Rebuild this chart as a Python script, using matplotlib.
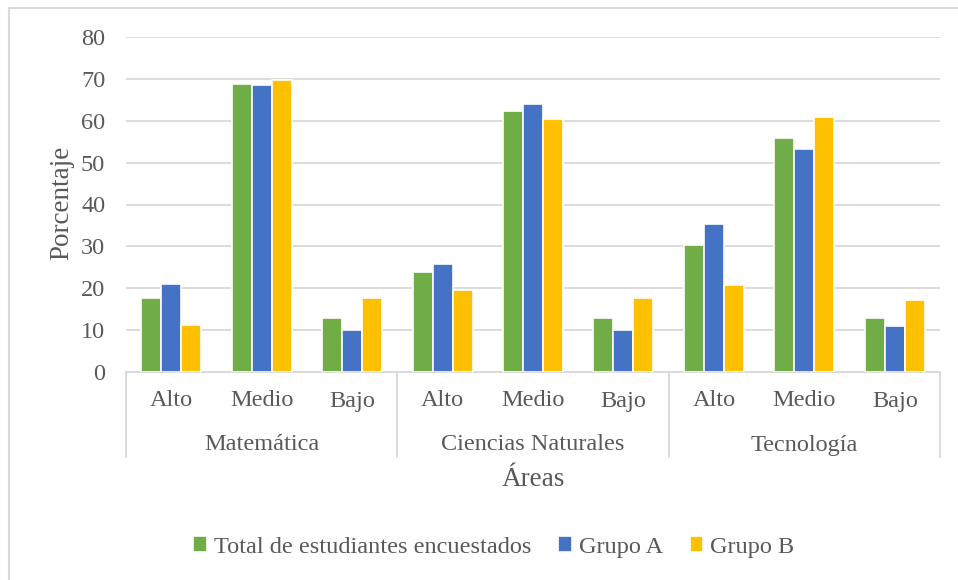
import matplotlib.pyplot as plt
from matplotlib.patches import Rectangle
from matplotlib.lines import Line2D
from matplotlib.transforms import blended_transform_factory
import numpy as np

plt.rcParams['font.family'] = ['Liberation Serif', 'DejaVu Serif']

# Data
areas = ["Matemática", "Ciencias Naturales", "Tecnología"]
niveles = ["Alto", "Medio", "Bajo"]
series_names = ["Total de estudiantes encuestados", "Grupo A", "Grupo B"]
total = [17.7, 68.8, 12.8, 23.8, 62.3, 12.8, 30.3, 55.9, 13.0]
grupo_a = [21.0, 68.5, 10.1, 25.7, 64.1, 10.0, 35.3, 53.2, 11.0]
grupo_b = [11.3, 69.8, 17.6, 19.7, 60.4, 17.6, 20.7, 60.9, 17.1]
colors = ["#70AD47", "#4472C4", "#FFC000"]

text_color = "#595959"
grid_color = "#D9D9D9"

fig = plt.figure(figsize=(9.58, 5.80), dpi=100)
ax = fig.add_axes([126/958, 1-372/580, (940-126)/958, (372-37)/580])

n = len(total)
x = np.arange(n)
pitch = 0.221
for i, (vals, c, name) in enumerate(zip([total, grupo_a, grupo_b], colors, series_names)):
    ax.bar(x + (i-1)*pitch, vals, width=pitch, color=c, edgecolor="white",
           linewidth=1.2, label=name, zorder=3)

ax.set_xlim(-0.5, n-0.5)
ax.set_ylim(0, 80)
ax.set_yticks(range(0, 81, 10))
ax.yaxis.grid(True, color=grid_color, linewidth=1.3, zorder=0)
ax.tick_params(axis='y', length=0, pad=15, labelsize=17.5, labelcolor=text_color)
ax.set_xticks([])
for s in ["top", "right", "left"]:
    ax.spines[s].set_visible(False)
ax.spines["bottom"].set_color(grid_color)
ax.spines["bottom"].set_linewidth(1.3)

trans = blended_transform_factory(ax.transData, fig.transFigure)

# level 1 labels
for i in range(n):
    ax.text(i, 1-401/580, niveles[i % 3], transform=trans,
            ha="center", va="center", fontsize=17.5, color=text_color)

# level 2 labels
for g, area in enumerate(areas):
    ax.text(g*3 + 1, 1-445/580, area, transform=trans, ha="center", va="center",
            fontsize=17.5, color=text_color)
for b in [-0.5, 2.5, 5.5, 8.5]:
    fig.add_artist(Line2D([b, b], [1-372/580, 1-457/580], transform=trans,
                          color=grid_color, linewidth=1.3))

fig.text(533/958, 1-479/580, "Áreas", ha="center", va="center", fontsize=19.5, color=text_color)
fig.text(62/958, 1-203/580, "Porcentaje", ha="center", va="center", rotation=90,
         fontsize=19.5, color=text_color)

fig.legend(loc="center", bbox_to_anchor=(494/958, 1-547/580), ncol=3, frameon=False,
           fontsize=17.5, labelcolor=text_color, handlelength=0.55, handleheight=0.6,
           handletextpad=0.3, columnspacing=1.1)

fig.add_artist(Rectangle((9/958, -0.1), 1.2, 1.1 - 8/580, transform=fig.transFigure,
                         fill=False, edgecolor="#D9D9D9", linewidth=1.5))

fig.savefig("out.png", dpi=100)
